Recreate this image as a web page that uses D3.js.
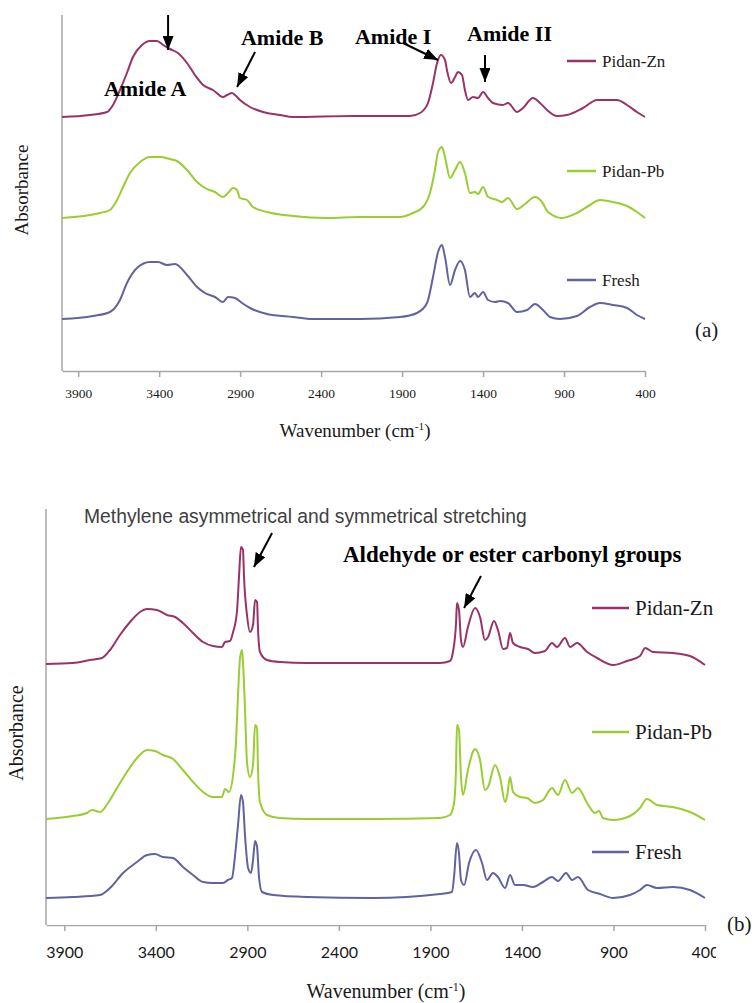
<!DOCTYPE html>
<html>
<head>
<meta charset="utf-8">
<script src="https://cdn.jsdelivr.net/npm/d3@7"></script>
<style>
  body { margin: 0; background: #fff; }
</style>
</head>
<body>
<div class="vis-holder"></div>
<script>
// shared tick labels, series names and colours
var tickWavenumbers = [3900, 3400, 2900, 2400, 1900, 1400, 900, 400];
var seriesNames = ["Pidan-Zn", "Pidan-Pb", "Fresh"];
var seriesColors = ["#993366", "#9acd32", "#62629f"];

// panel (a) spectra, wavenumber (cm-1) and stacked absorbance (a.u.)
var aZnWn = [4000,3827,3722,3685,3642,3599,3562,3506,3457,3413,3376,3333,3284,3228,3179,3129,3068,3006,2981,2950,2932,2901,2839,2759,2654,2574,2203,2098,1851,1789,1740,1709,1684,1660,1635,1623,1598,1573,1555,1530,1512,1493,1462,1431,1400,1369,1339,1277,1246,1190,1153,1092,1048,1005,943,882,783,696,573,511,450,400];
var aZnAbs = [2.54,2.56,2.59,2.66,2.81,2.98,3.14,3.26,3.30,3.30,3.26,3.22,3.18,3.08,2.96,2.86,2.81,2.74,2.76,2.78,2.76,2.71,2.64,2.59,2.56,2.54,2.55,2.55,2.55,2.58,2.68,2.88,3.08,3.16,3.11,3.01,2.88,2.94,2.99,2.96,2.81,2.71,2.74,2.73,2.79,2.73,2.68,2.66,2.68,2.59,2.63,2.73,2.68,2.61,2.55,2.56,2.63,2.71,2.71,2.66,2.59,2.54];

var aPbWn = [4000,3765,3704,3660,3623,3580,3518,3457,3395,3333,3290,3228,3166,3117,3055,3006,2975,2944,2919,2901,2858,2821,2734,2574,2364,2160,1913,1833,1771,1728,1697,1678,1654,1635,1604,1573,1542,1512,1481,1450,1431,1400,1369,1314,1283,1246,1190,1141,1079,1036,999,912,820,740,678,598,511,450,400];
var aPbAbs = [1.53,1.58,1.61,1.71,1.84,1.98,2.09,2.14,2.14,2.12,2.10,2.01,1.89,1.83,1.79,1.74,1.78,1.83,1.81,1.73,1.71,1.64,1.59,1.55,1.53,1.54,1.54,1.58,1.64,1.78,2.01,2.19,2.24,2.14,1.93,2.01,2.09,1.98,1.78,1.79,1.77,1.84,1.74,1.71,1.69,1.73,1.62,1.67,1.74,1.69,1.59,1.53,1.58,1.66,1.71,1.69,1.65,1.59,1.53];

var aFrWn = [4000,3809,3704,3642,3599,3537,3457,3407,3352,3302,3228,3166,3117,3055,3006,2975,2932,2888,2839,2734,2574,2450,2160,1913,1808,1746,1709,1678,1654,1635,1604,1573,1542,1512,1481,1450,1431,1400,1369,1326,1295,1246,1190,1128,1079,1030,987,925,820,740,678,598,511,450,400];
var aFrAbs = [0.52,0.55,0.59,0.71,0.88,1.03,1.09,1.09,1.06,1.07,0.96,0.84,0.78,0.74,0.69,0.74,0.73,0.68,0.63,0.57,0.54,0.52,0.52,0.54,0.58,0.68,0.94,1.19,1.26,1.14,0.86,1.01,1.10,1.01,0.74,0.78,0.74,0.79,0.71,0.69,0.70,0.68,0.59,0.61,0.67,0.61,0.54,0.52,0.55,0.64,0.68,0.66,0.63,0.56,0.52];

// panel (b) spectra
var bZnWn = [4000,3853,3760,3694,3650,3596,3541,3486,3448,3394,3339,3295,3252,3197,3142,3088,3039,3022,2995,2978,2957,2946,2935,2924,2918,2902,2886,2869,2858,2847,2842,2831,2793,2722,2574,2214,1848,1793,1777,1760,1755,1744,1733,1722,1695,1656,1629,1602,1585,1553,1531,1503,1482,1465,1449,1411,1367,1329,1274,1236,1208,1165,1137,1099,1044,990,902,826,755,727,684,575,482,400];
var bZnAbs = [2.61,2.62,2.65,2.67,2.75,2.90,3.03,3.13,3.16,3.15,3.10,3.08,3.02,2.92,2.83,2.79,2.78,2.83,2.84,2.93,3.13,3.47,3.78,3.75,3.47,3.10,2.93,3.00,3.25,3.23,2.97,2.73,2.65,2.63,2.62,2.62,2.62,2.64,2.73,3.02,3.22,3.15,2.85,2.78,2.98,3.17,3.08,2.85,2.88,3.04,2.95,2.76,2.77,2.92,2.82,2.78,2.76,2.72,2.74,2.82,2.78,2.87,2.78,2.82,2.73,2.67,2.60,2.64,2.69,2.77,2.73,2.72,2.69,2.60];

var bPbWn = [4000,3853,3776,3749,3705,3661,3612,3558,3503,3448,3405,3361,3306,3252,3197,3142,3088,3039,3022,3000,2978,2962,2951,2940,2929,2924,2913,2902,2886,2869,2858,2847,2842,2831,2793,2722,2574,2214,1848,1793,1771,1760,1755,1744,1733,1722,1695,1656,1629,1602,1585,1547,1520,1492,1482,1465,1449,1411,1372,1329,1285,1236,1203,1165,1126,1094,1044,1001,979,957,902,810,755,717,662,575,482,400];
var bPbAbs = [1.06,1.09,1.12,1.15,1.13,1.22,1.37,1.53,1.67,1.75,1.74,1.70,1.66,1.55,1.43,1.33,1.28,1.28,1.36,1.33,1.50,1.83,2.30,2.67,2.75,2.63,2.17,1.63,1.48,1.60,2.00,1.97,1.57,1.23,1.10,1.07,1.06,1.06,1.07,1.10,1.22,1.58,2.00,1.95,1.48,1.30,1.55,1.76,1.65,1.35,1.38,1.60,1.48,1.23,1.28,1.48,1.33,1.28,1.27,1.22,1.25,1.37,1.30,1.45,1.32,1.37,1.22,1.12,1.14,1.07,1.05,1.09,1.17,1.26,1.20,1.18,1.13,1.05];

var bFrWn = [4000,3853,3705,3650,3579,3503,3448,3405,3361,3306,3252,3197,3142,3088,3033,3006,2984,2967,2951,2935,2924,2913,2896,2880,2869,2858,2847,2836,2820,2760,2574,2214,1848,1782,1771,1755,1744,1733,1716,1689,1651,1618,1591,1558,1531,1492,1465,1438,1394,1340,1285,1236,1203,1159,1126,1094,1039,973,902,810,755,717,662,575,482,400];
var bFrAbs = [0.27,0.28,0.30,0.37,0.52,0.63,0.70,0.71,0.68,0.67,0.58,0.50,0.43,0.42,0.42,0.45,0.47,0.70,1.00,1.30,1.23,0.90,0.57,0.52,0.65,0.84,0.78,0.47,0.33,0.30,0.28,0.27,0.31,0.33,0.48,0.82,0.72,0.45,0.40,0.62,0.75,0.62,0.45,0.52,0.48,0.37,0.50,0.40,0.40,0.38,0.43,0.48,0.44,0.52,0.45,0.48,0.35,0.31,0.27,0.30,0.35,0.40,0.37,0.38,0.35,0.27];

// annotations: labels anchored at (wavenumber, absorbance), arrows from -> to
var aLabels = [
  {text: "Amide A", wn: 3741, v: 2.75},
  {text: "Amide B", wn: 2895, v: 3.26},
  {text: "Amide I", wn: 2191, v: 3.27},
  {text: "Amide II", wn: 1499, v: 3.30}
];
var aArrows = [
  {wn0: 3345, v0: 3.56, wn1: 3345, v1: 3.21},
  {wn0: 2808, v0: 3.19, wn1: 2919, v1: 2.84},
  {wn0: 1894, v0: 3.28, wn1: 1678, v1: 3.11},
  {wn0: 1388, v0: 3.16, wn1: 1388, v1: 2.89}
];
var bLabels = [
  {text: "Methylene asymmetrical and symmetrical stretching", wn: 3792, v: 4.02, sans: true},
  {text: "Aldehyde or ester carbonyl groups", wn: 2378, v: 3.63, sans: false}
];
var bArrows = [
  {wn0: 2765, v0: 3.92, wn1: 2864, v1: 3.58},
  {wn0: 1624, v0: 3.49, wn1: 1716, v1: 3.17}
];

var serif = '"Liberation Serif", "Times New Roman", serif';
var sans = '"Liberation Sans", Arial, sans-serif';

var svg = d3.select(".vis-holder")
            .append("svg")
            .attr("width", 755)
            .attr("height", 1003);

// arrowhead marker
svg.append("defs")
   .append("marker")
   .attr("id", "head")
   .attr("markerUnits", "userSpaceOnUse")
   .attr("viewBox", "0 0 14 11")
   .attr("markerWidth", 14)
   .attr("markerHeight", 11)
   .attr("refX", 14)
   .attr("refY", 5.5)
   .attr("orient", "auto")
   .append("path")
   .attr("d", "M0,0L14,5.5L0,11Z")
   .attr("fill", "#000");

svg.select("defs")
   .append("clipPath")
   .attr("id", "clipB")
   .append("rect")
   .attr("x", 0).attr("y", 0)
   .attr("width", 716).attr("height", 1003);

function spectrum_panel(p) {
	var xScale = d3.scaleLinear().domain([4000, 400]).range([p.left, p.right]);
	var yScale = d3.scaleLinear().domain([0, p.yMax]).range([p.bottom, p.top]);
	var g = svg.append("g");

	// vertical axis line (no ticks)
	g.append("line")
	 .attr("x1", p.left).attr("x2", p.left)
	 .attr("y1", p.top).attr("y2", p.bottom)
	 .attr("stroke", "#a6a6a6")
	 .attr("stroke-width", 1.5);

	var xAxis = g.append("g")
	             .attr("transform", `translate(0, ${p.bottom})`)
	             .call(d3.axisBottom(xScale)
	                     .tickValues(tickWavenumbers)
	                     .tickSize(6)
	                     .tickSizeOuter(0)
	                     .tickFormat(d3.format("d")));
	xAxis.select(".domain").attr("stroke", "#a6a6a6").attr("stroke-width", 1.5);
	xAxis.selectAll(".tick line").attr("stroke", "#a6a6a6").attr("stroke-width", 1.5);
	xAxis.selectAll(".tick text")
	     .attr("y", p.labelOffset)
	     .attr("dy", "0.35em")
	     .attr("fill", "#1a1a1a")
	     .style("font-family", p.tickFont)
	     .style("font-size", p.tickSize + "px");
	if (p.clip) xAxis.attr("clip-path", "url(#clipB)");

	// spectra
	var line = d3.line()
	             .curve(d3.curveMonotoneX)
	             .x(function(d) { return xScale(d[0]); })
	             .y(function(d) { return yScale(d[1]); });
	p.series.forEach(function(s, i) {
		g.append("path")
		 .attr("d", line(d3.zip(s[0], s[1])))
		 .attr("fill", "none")
		 .attr("stroke", seriesColors[i])
		 .attr("stroke-width", 2)
		 .attr("stroke-linejoin", "round");
	});

	// legend
	seriesNames.forEach(function(name, i) {
		g.append("line")
		 .attr("x1", p.legX).attr("x2", p.legX + p.legLen)
		 .attr("y1", p.legY[i]).attr("y2", p.legY[i])
		 .attr("stroke", seriesColors[i])
		 .attr("stroke-width", 2.5);
		g.append("text")
		 .attr("x", p.legX + p.legLen + 6)
		 .attr("y", p.legY[i])
		 .attr("dy", "0.33em")
		 .style("font-family", serif)
		 .style("font-size", p.legSize + "px")
		 .attr("fill", "#1a1a1a")
		 .text(name);
	});

	// annotations
	p.labels.forEach(function(l) {
		g.append("text")
		 .attr("x", xScale(l.wn))
		 .attr("y", yScale(l.v))
		 .style("font-family", l.sans ? sans : serif)
		 .style("font-weight", l.sans ? "normal" : "bold")
		 .style("font-size", (l.sans ? p.sansSize : p.annSize) + "px")
		 .attr("fill", l.sans ? "#404040" : "#000")
		 .text(l.text);
	});
	p.arrows.forEach(function(a) {
		g.append("line")
		 .attr("x1", xScale(a.wn0)).attr("y1", yScale(a.v0))
		 .attr("x2", xScale(a.wn1)).attr("y2", yScale(a.v1))
		 .attr("stroke", "#000")
		 .attr("stroke-width", 2)
		 .attr("marker-end", "url(#head)");
	});

	// y-axis title
	g.append("text")
	 .attr("text-anchor", "middle")
	 .attr("transform", "translate(" + p.yTitleX + "," + p.yTitleY + ")rotate(-90)")
	 .style("font-family", serif)
	 .style("font-size", p.titleSize + "px")
	 .attr("fill", "#1a1a1a")
	 .text("Absorbance");

	// x-axis title with superscript
	var xt = g.append("text")
	          .attr("text-anchor", "middle")
	          .attr("x", p.xTitleX)
	          .attr("y", p.xTitleY)
	          .style("font-family", serif)
	          .style("font-size", p.titleSize + "px")
	          .attr("fill", "#1a1a1a");
	xt.append("tspan").text("Wavenumber (cm");
	xt.append("tspan").attr("dy", -7).style("font-size", (p.titleSize * 0.6) + "px").text("-1");
	xt.append("tspan").attr("dy", 7).text(")");

	// panel letter
	g.append("text")
	 .attr("x", p.tagX)
	 .attr("y", p.tagY)
	 .style("font-family", serif)
	 .style("font-size", "21px")
	 .attr("fill", "#1a1a1a")
	 .text(p.tag);
}

spectrum_panel({
	left: 62, right: 645, top: 15, bottom: 371, yMax: 3.56,
	labelOffset: 22, tickFont: serif, tickSize: 13.5, clip: false,
	series: [[aZnWn, aZnAbs], [aPbWn, aPbAbs], [aFrWn, aFrAbs]],
	legX: 567, legLen: 29, legY: [61, 171, 280], legSize: 17,
	labels: aLabels, arrows: aArrows, annSize: 22, sansSize: 19,
	yTitleX: 28, yTitleY: 190, xTitleX: 355, xTitleY: 437, titleSize: 19,
	tag: "(a)", tagX: 695, tagY: 337
});

spectrum_panel({
	left: 46, right: 705, top: 509, bottom: 925, yMax: 4.16,
	labelOffset: 27, tickFont: 'Lato, "Open Sans", sans-serif', tickSize: 16, clip: true,
	series: [[bZnWn, bZnAbs], [bPbWn, bPbAbs], [bFrWn, bFrAbs]],
	legX: 592, legLen: 37, legY: [608, 732, 852], legSize: 21,
	labels: bLabels, arrows: bArrows, annSize: 23, sansSize: 19.3,
	yTitleX: 23, yTitleY: 733, xTitleX: 386, xTitleY: 998, titleSize: 20,
	tag: "(b)", tagX: 727, tagY: 931
});
</script>
</body>
</html>
